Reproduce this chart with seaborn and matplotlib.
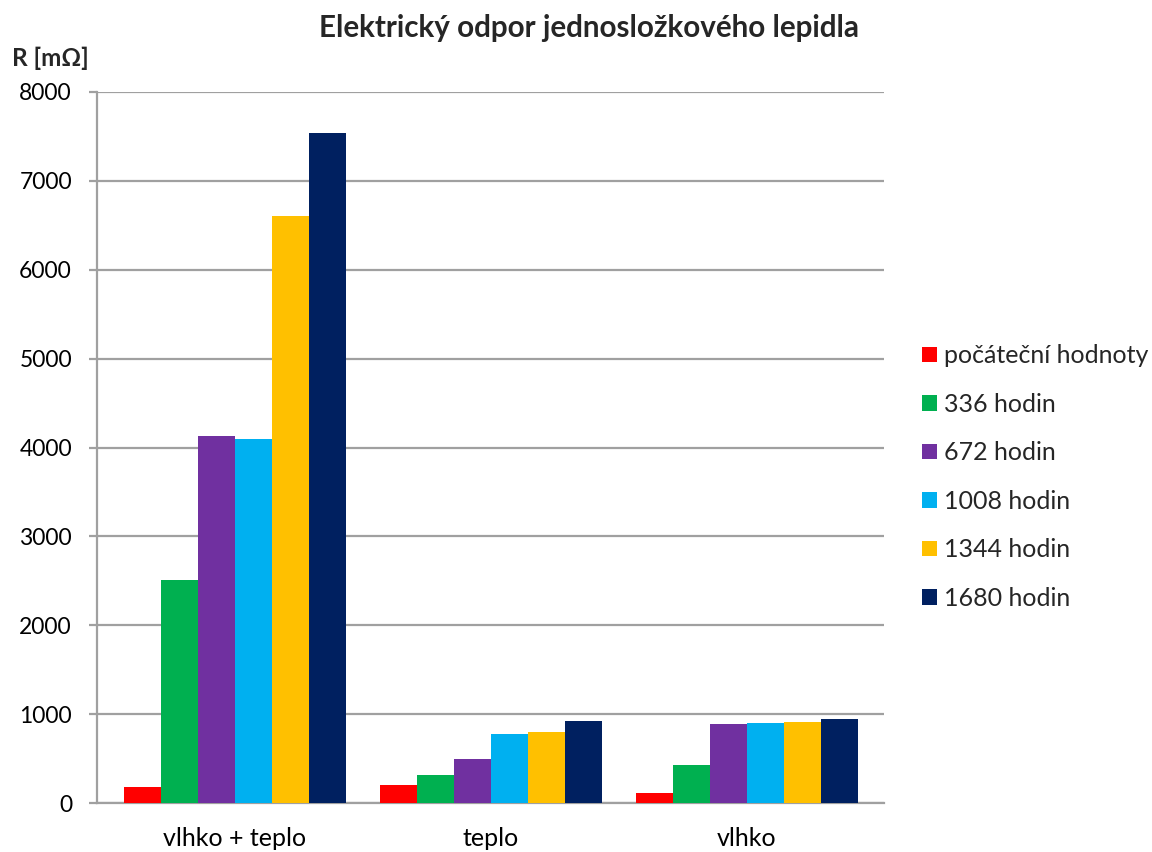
import numpy as np
import pandas as pd
import matplotlib
matplotlib.use("Agg")
import matplotlib.pyplot as plt
import seaborn as sns

# Measured resistance of the one-component adhesive [mΩ]
conditions = ["vlhko + teplo", "teplo", "vlhko"]
series = ["počáteční hodnoty", "336 hodin", "672 hodin", "1008 hodin", "1344 hodin", "1680 hodin"]
v_initial = [178, 202, 112]
v_336 = [2510, 315, 427]
v_672 = [4130, 494, 888]
v_1008 = [4095, 775, 899]
v_1344 = [6605, 798, 910]
v_1680 = [7540, 921, 944]
y_ticks = [0, 1000, 2000, 3000, 4000, 5000, 6000, 7000, 8000]

colors = ["#FF0000", "#00B050", "#7030A0", "#00B0F0", "#FFC000", "#002060"]

rows = []
for name, vals in zip(series, [v_initial, v_336, v_672, v_1008, v_1344, v_1680]):
    for cond, v in zip(conditions, vals):
        rows.append({"podmínky": cond, "čas": name, "R": v})
df = pd.DataFrame(rows)

sns.set_theme(style="white")
plt.rcParams["font.family"] = ["Lato", "DejaVu Sans"]

fig = plt.figure(figsize=(11.52, 8.52), dpi=100)
ax = fig.add_axes([97 / 1152, 1 - 803 / 852, (884 - 97) / 1152, (803 - 92) / 852])

sns.barplot(data=df, x="podmínky", y="R", hue="čas", order=conditions,
            hue_order=series, palette=colors, saturation=1, width=0.867,
            gap=0, errorbar=None, linewidth=0, ax=ax, zorder=3)

grid_c = "#A0A0A0"
ax.set_ylim(0, 8000)
ax.set_yticks(y_ticks)
ax.set_yticklabels([str(t) for t in y_ticks])
ax.set_xlim(-0.539, 2.535)
ax.yaxis.grid(True, color=grid_c, linewidth=1.6, zorder=0)
ax.set_axisbelow(True)
for s in ["top", "right"]:
    ax.spines[s].set_visible(False)
for s in ["left", "bottom"]:
    ax.spines[s].set_color(grid_c)
    ax.spines[s].set_linewidth(1.6)
ax.tick_params(axis="y", length=6, width=1.6, color=grid_c, pad=12,
               labelsize=16.5, labelcolor="black", left=True)
ax.tick_params(axis="x", length=0, pad=17, labelsize=18, labelcolor="black")
ax.set_xlabel("")
ax.set_ylabel("")

handles, labels = ax.get_legend_handles_labels()
ax.legend(handles, labels, loc="center left",
          bbox_to_anchor=(922 / 1152, 1 - 477 / 852), bbox_transform=fig.transFigure,
          frameon=False, fontsize=18, handlelength=0.6, handleheight=0.6,
          handletextpad=0.3, labelspacing=1.02, borderpad=0, borderaxespad=0)

fig.text(589 / 1152, 1 - 28 / 852, "Elektrický odpor jednosložkového lepidla",
         ha="center", va="center", fontsize=21.3, fontweight="bold")
fig.text(12 / 1152, 1 - 58 / 852, "R [mΩ]", ha="left", va="center",
         fontsize=17.5, fontweight="bold")

fig.savefig("out.png", dpi=100, facecolor="white")
